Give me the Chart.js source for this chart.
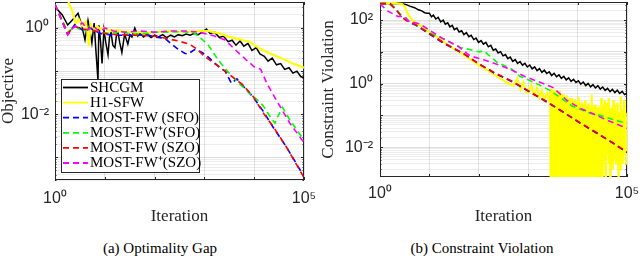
<!DOCTYPE html>
<html><head><meta charset="utf-8">
<script src="https://cdn.jsdelivr.net/npm/chart.js@4.4.1/dist/chart.umd.min.js"></script>
<style>
html,body{margin:0;padding:0;background:#fff;}
body{width:640px;height:256px;position:relative;overflow:hidden;}
.panel{position:absolute;top:0;width:320px;height:232px;}
#pa{left:0}#pb{left:320px}
.cap{position:absolute;top:238px;width:320px;text-align:center;font-family:'Liberation Serif',serif;font-size:15px;line-height:20px;color:#000;}
</style></head><body>
<div class="panel" id="pa"><canvas id="ca" width="320" height="232"></canvas></div>
<div class="panel" id="pb"><canvas id="cb" width="320" height="232"></canvas></div>
<div class="cap" style="left:0">(a) Optimality Gap</div>
<div class="cap" style="left:322px">(b) Constraint Violation</div>
<script>
// ---------- series names ----------
const seriesNames = ['SHCGM', 'H1-SFW', 'MOST-FW (SFO)', 'MOST-FW\u207A(SFO)', 'MOST-FW (SZO)', 'MOST-FW\u207A(SZO)'];
const seriesColors = ['#000000', '#ffff00', '#0000ff', '#00ff00', '#ff0000', '#ff00ff'];

// ---------- tick labels ----------
const xTickValues = [1, 100000];
const xTickLabels = ['10\u2070', '10\u2075'];
const yTickValuesA = [1, 0.01];
const yTickLabelsA = ['10\u2070', '10\u207B\u00B2'];
const yTickValuesB = [100, 1, 0.01];
const yTickLabelsB = ['10\u00B2', '10\u2070', '10\u207B\u00B2'];

// ---------- (a) Objective ----------
const itShcgmA = [1,1.4,1.8,2.3,2.9,3.4,4.0,4.6,5.0,5.5,6.1,6.7,7.3,7.6,8.2,8.8,9.6,10.5,11.6,12.4,13.3,14.5,16,17.2,18.5,20,22,25,29,32,35,40,46,51,60,70,85,100,120,145,175,210,250,300,360,430,520,620,750,900,1100,1300,1600,2000,2400,3000,3600,4300,5200,6200,7500,9000,11000,13000,16000,19000,23000,28000,34000,41000,50000,60000,72000,86000,100000];
const shcgmA = [3.1,2.0,1.17,1.6,2.2,1.2,0.53,1.5,0.9,0.45,1.3,0.25,0.06,1.15,0.5,0.15,0.9,0.45,0.24,0.6,0.8,0.4,0.35,0.7,0.76,0.45,0.27,0.72,0.42,0.7,0.62,1.0,0.65,0.75,0.62,0.72,0.6,0.68,0.62,0.7,0.6,0.68,0.62,0.7,0.66,0.72,0.68,0.75,0.7,0.8,0.95,0.75,0.8,0.6,0.65,0.48,0.52,0.4,0.5,0.38,0.44,0.3,0.35,0.25,0.22,0.17,0.2,0.14,0.15,0.11,0.12,0.09,0.1,0.075,0.07];

const itH1A = [1,1.8,2.2,2.6,3.0,3.5,4.2,4.8,5.2,6,7,8,10,13,17,22,30,50,80,120,200,300,500,800,1200,2000,3000,5000,8000,12000,20000,35000,60000,100000];
const h1A = [4.5,4.5,2.5,1.3,1.6,1.1,1.4,0.38,1.2,0.9,1.1,0.95,1.0,0.85,0.9,0.85,0.82,0.8,0.78,0.82,0.85,0.82,0.83,0.85,0.85,0.75,0.63,0.55,0.48,0.35,0.26,0.2,0.15,0.12];

const itSfoA = [1,1.8,2.5,3.5,5,8,12,20,40,70,100,160,220,300,400,470,650,900,1200,1900,2600,3500,4500,6000,9500,15000,24000,45000,100000];
const sfoA = [3.5,0.7,1.2,0.9,1.0,0.75,0.7,0.68,0.68,0.7,0.62,0.58,0.42,0.32,0.26,0.25,0.32,0.27,0.21,0.13,0.1,0.052,0.066,0.045,0.025,0.012,0.005,0.0017,0.00036];

const itSfoPA = [1,1.8,2.5,3.5,5,8,12,20,40,70,120,200,350,600,800,1200,1900,3000,4500,7000,10000,15000,20000,26000,30000,37000,50000,70000,100000];
const sfoPA = [3.5,0.8,1.1,0.85,0.95,0.8,0.75,0.8,0.72,0.75,0.8,0.8,0.82,0.78,0.62,0.4,0.18,0.095,0.058,0.036,0.025,0.016,0.0095,0.0062,0.009,0.0145,0.008,0.0045,0.0025];

const itSzoA = [1,1.8,2.5,3.5,5,8,12,20,40,70,100,200,300,500,700,1000,1600,2600,4100,5700,9500,15000,24000,45000,100000];
const szoA = [3.5,0.75,1.1,0.95,0.9,0.8,0.72,0.7,0.68,0.66,0.65,0.55,0.5,0.42,0.33,0.22,0.15,0.1,0.066,0.05,0.026,0.011,0.0052,0.0017,0.00034];

const itSzoPA = [1,1.8,2.3,3.6,4.5,6,8,10,15,25,50,100,200,400,650,1000,1600,2600,4200,7000,10000,13500,18000,28000,52000,100000];
const szoPA = [3.5,0.69,1.0,1.3,0.9,1.1,0.8,1.0,0.85,0.8,0.85,0.8,0.85,0.85,0.82,0.75,0.65,0.53,0.31,0.18,0.126,0.11,0.052,0.021,0.0062,0.0022];

// ---------- (b) Constraint violation ----------
const itShcgmB = [1,2,3,3.5,4,5,6,7,8,9,10,11,12,13.5,15,17,19,21,23.5,26,29,32,36,40,45,50,56,63,70,79,88,99,111,124,139,156,175,196,220,246,276,309,346,388,434,486,545,610,683,765,857,960,1075,1204,1349,1511,1692,1895,2123,2378,2663,2983,3341,3742,4191,4694,5257,5888,6595,7386,8273,9266,10378,11623,13018,14580,16330,18290,20485,22943,25696,28780,32233,36101,40433,45285,50720,56806,63623,71257,79808,89385,100000];
const shcgmB = [330,335,320,300,275,245,210,195,170,165,165,126,143,108,121,88,99,74,82,61,68,50,56,42,46,35,40,30,33,24.3,27,19.8,22.5,17.5,19.8,14.4,16,11.2,12.3,9.2,10.1,7.5,8.2,6.1,6.8,5.0,5.7,4.3,4.95,3.8,4.35,3.33,3.85,2.92,3.35,2.56,2.97,2.25,2.64,2.07,2.36,1.8,2.11,1.64,1.89,1.46,1.7,1.31,1.52,1.18,1.37,1.08,1.23,0.96,1.12,0.87,1.02,0.79,0.93,0.73,0.86,0.67,0.78,0.61,0.71,0.56,0.66,0.52,0.62,0.49,0.57,0.45,0.5];

const itH1Bsmooth = [1,2,2.8,3.2,3.7,4.5,6,8,10,15,20,30,50,100,200,400,500,600,700,800,900,1000,1150,1300,1500,1700,1900,2100,2400,2700];
const h1Bsmooth = [340,340,320,260,150,100,75,55,42,28,20,13,8,3.8,2.0,1.0,0.85,1.4,0.65,1.1,0.55,0.5,0.9,0.43,0.75,0.36,0.6,0.3,0.5,0.26];
const itH1Bnoisy1 = [2800,2850,2900,2950,3000,3075,3150,3225,3300,3375,3450,3525,3600,3675,3750,3825,3900,3975,4050,4125,4200,4300,4400,4500,4600,4700,4800,4900,5000,5100,5200,5300,5400,5500,5600,5725,5850,5975,6100,6225,6350,6475,6600,6750,6900,7050,7200,7350,7500,7650,7800,7950,8100,8275,8450,8625,8800,8975,9150,9325,9500,9700,9900,10100,10300,10500,10700,10900,11100,11350,11600,11850,12100,12350,12600,12850,13100,13350,13600,13900,14200,14500,14800,15100,15400,15700,16000,16300,16600,16950,17300,17650,18000,18350,18700,19100,19500,19900,20300,20700,21100,21550,22000,22450,22900,23350,23800,24300,24800,25300,25800,26300,26800,27350,27900,28450,29000];
const h1Bnoisy1 = [0.55,0.0001,0.7,0.0002,0.45,0.001,0.6,0.0001,0.4,0.0005,0.65,0.0001,0.38,0.003,0.55,0.0001,0.3,0.0002,0.5,0.0015,0.42,0.0001,0.6,0.0004,0.33,0.0001,0.48,0.002,0.3,0.0001,0.45,0.0007,0.28,0.0001,0.4,0.003,0.26,0.0001,0.42,0.0003,0.3,0.0001,0.22,0.002,0.36,0.0001,0.25,0.0006,0.35,0.0001,0.2,0.004,0.3,0.0001,0.22,0.0002,0.32,0.001,0.18,0.0001,0.28,0.003,0.2,0.0001,0.38,0.005,0.18,0.0001,0.24,0.0008,0.16,0.0001,0.27,0.002,0.15,0.0001,0.22,0.006,0.14,0.0001,0.3,0.0004,0.15,0.008,0.2,0.0001,0.13,0.003,0.24,0.0001,0.14,0.005,0.18,0.0001,0.12,0.002,0.45,0.0001,0.16,0.01,0.2,0.0002,0.13,0.004,0.22,0.0001,0.12,0.007,0.17,0.0001,0.11,0.003,0.19,0.012,0.1,0.0005,0.15];
const itH1Bnoisy2 = [29600,30200,30800,31400,32000,32700,33300,34000,34700,35400,36100,36800,37500,38300,39000,39800,40600,41400,42200,43100,43900,44800,45700,46600,47500,48500,49400,50400,51400,52400,53400,54500,55600,56700,57800,59000,60200,61400,62600,63800,65100,66400,67700,69000,70400,71800,73200,74700,76200,77700,79200,80800,82400,84000,85700,87400,89100,90900,92700,94500,96400,98300,100000];
const h1Bnoisy2 = [0.003,0.35,0.008,0.14,0.0001,0.22,0.01,0.12,0.004,0.3,0.015,0.1,0.0002,0.25,0.006,0.11,0.01,0.2,0.003,0.35,0.012,0.09,0.0001,0.16,0.005,0.12,0.008,0.18,0.002,0.3,0.01,0.1,0.004,0.22,0.015,0.08,0.003,0.14,0.007,0.25,0.02,0.09,0.0001,0.12,0.004,0.1,0.002,0.4,0.008,0.12,0.005,0.15,0.003,0.1,0.012,0.3,0.006,0.1,0.015,0.12,0.003,0.09,0.006];

const itSfoB = [1,1.6,2.1,2.8,4,6,10,20,50,100,200,500,1000,2400,5000,11000,24000,50000,100000];
const sfoB = [330,330,220,125,85,62,36,18,8.6,4.2,2.2,1.1,0.58,0.26,0.13,0.058,0.028,0.014,0.0068];

const itSfoPB = [1,1.5,2,2.8,5,10,18,41,84,105,125,150,230,470,680,1500,2800,4400,7600,12000,20000,28000,50000,100000];
const sfoPB = [330,330,240,130,75,40,27,14,10.7,10,11,8.5,4.8,2.8,1.7,1.0,0.6,0.37,0.2,0.15,0.11,0.1,0.075,0.056];

const itSzoB = [1,1.6,2.0,2.3,2.8,3.5,5,10,20,52,105,200,490,1000,2400,5000,11000,24000,50000,100000];
const szoB = [330,330,230,180,120,95,75,38,19,8.4,4.0,2.3,1.15,0.6,0.27,0.13,0.06,0.029,0.014,0.007];

const itSzoPB = [1,1.45,2.3,3.2,3.7,6.4,18,38,66,130,190,400,870,1500,3200,6000,11000,20000,40000,100000];
const szoPB = [320,190,130,130,93,75,27,15,7.5,5.5,4.5,3.0,1.65,1.2,0.75,0.3,0.17,0.115,0.07,0.039];

// ---------- helpers ----------
function pts(xs, ys){ return xs.map((x,i)=>({x:x, y:ys[i]})); }
function isDecade(v){ const l = Math.log10(v); return Math.abs(l - Math.round(l)) < 1e-6; }
function labelFor(v, vals, labs){
  for (let i=0;i<vals.length;i++){ if (Math.abs(Math.log10(v)-Math.log10(vals[i]))<1e-6) return labs[i]; }
  return '';
}
function logGrid(min, max, minor){
  const out = [];
  for (let e = Math.floor(Math.log10(min)); e <= Math.ceil(Math.log10(max)); e++){
    const steps = minor ? [1,2,3,4,5,6,7,8,9] : [1];
    steps.forEach(m => { const v = m*Math.pow(10,e); if (v >= min*0.9999 && v <= max*1.0001) out.push(v); });
  }
  return out;
}
const lineWidths = [1.5, 2.1, 1.6, 1.6, 1.6, 1.6];
function mkDatasets(arr){
  return arr.map((d,i)=>({
    label: seriesNames[i], data: pts(d[0], d[1]),
    borderColor: seriesColors[i], backgroundColor: seriesColors[i],
    borderWidth: lineWidths[i], borderDash: i>=2 ? [6,4] : [],
    pointRadius: 0, tension: 0, fill: false, order: 6 - i
  }));
}

const frameTicks = {
  id: 'frameTicks',
  beforeDatasetsDraw(chart){
    const {ctx, chartArea:a, scales:{x, y}} = chart;
    ctx.save();
    ctx.strokeStyle = '#262626'; ctx.lineWidth = 1;
    ctx.beginPath();
    x.ticks.forEach(t=>{ const p = Math.round(x.getPixelForValue(t.value))+0.5;
      ctx.moveTo(p, a.bottom); ctx.lineTo(p, a.bottom-3); ctx.moveTo(p, a.top); ctx.lineTo(p, a.top+3); });
    y.ticks.forEach(t=>{ const p = Math.round(y.getPixelForValue(t.value))+0.5; const L = isDecade(t.value)?3:1.5;
      ctx.moveTo(a.left, p); ctx.lineTo(a.left+L, p); ctx.moveTo(a.right, p); ctx.lineTo(a.right-L, p); });
    ctx.stroke();
    ctx.strokeRect(Math.round(a.left)+0.5, Math.round(a.top)+0.5, Math.round(a.right-a.left)-1, Math.round(a.bottom-a.top)-1);
    ctx.restore();
  }
};

const boxLegend = {
  id: 'boxLegend',
  afterDatasetsDraw(chart){
    const {ctx, chartArea:a} = chart;
    const x0 = Math.round(a.left)+6, y0 = Math.round(a.top)+77, w = 138, h = 93;
    ctx.save();
    ctx.fillStyle = '#fff'; ctx.fillRect(x0, y0, w, h);
    ctx.strokeStyle = '#262626'; ctx.lineWidth = 1; ctx.strokeRect(x0+0.5, y0+0.5, w, h);
    ctx.font = '15px "Liberation Serif"'; ctx.textBaseline = 'middle'; ctx.textAlign = 'left';
    chart.data.datasets.forEach((ds, i)=>{
      const yy = y0 + 8.5 + i*15.1;
      ctx.beginPath(); ctx.setLineDash(ds.borderDash || []);
      ctx.strokeStyle = ds.borderColor; ctx.lineWidth = 1.8;
      ctx.moveTo(x0+2, yy); ctx.lineTo(x0+27, yy); ctx.stroke();
      ctx.setLineDash([]);
      ctx.fillStyle = '#000'; ctx.fillText(ds.label, x0+29, yy+0.5);
    });
    ctx.restore();
  }
};

function mkOptions(cfg){
  return {
    responsive: false, animation: false,
    layout: { padding: { left: 0, right: cfg.padRight, top: 2, bottom: 0 } },
    plugins: { legend: { display: false }, tooltip: { enabled: false } },
    scales: {
      x: {
        type: 'logarithmic', min: 1, max: 100000,
        afterBuildTicks: s => { s.ticks = logGrid(1, 100000, false).map(v=>({value:v})); },
        afterFit: s => { s.height = cfg.xHeight; s.paddingLeft = 0; s.paddingRight = 0; },
        ticks: { autoSkip: false, maxRotation: 0, padding: cfg.xPad, color: '#262626',
          font: { family: 'Liberation Sans', size: 16 },
          callback: v => labelFor(v, xTickValues, xTickLabels) },
        grid: { drawTicks: false, color: 'rgba(0,0,0,0.11)', lineWidth: 1 },
        border: { display: false },
        title: { display: true, text: 'Iteration', color: '#262626',
          font: { family: 'Liberation Serif', size: 17, lineHeight: 1 }, padding: { top: 0, bottom: 6.5 } }
      },
      y: {
        type: 'logarithmic', min: cfg.yMin, max: cfg.yMax,
        afterBuildTicks: s => { s.ticks = logGrid(cfg.yMin, cfg.yMax, true).map(v=>({value:v})); },
        afterFit: s => { s.width = cfg.yWidth; s.paddingTop = 0; s.paddingBottom = 0; },
        ticks: { autoSkip: false, padding: cfg.yPad, color: '#262626',
          font: { family: 'Liberation Sans', size: 16 },
          callback: v => labelFor(v, cfg.yVals, cfg.yLabs) },
        grid: { drawTicks: false, lineWidth: 1,
          color: c => (c.tick && isDecade(c.tick.value)) ? 'rgba(0,0,0,0.13)' : 'rgba(0,0,0,0.07)' },
        border: { display: false },
        title: { display: true, text: cfg.yTitle, color: '#262626',
          font: { family: 'Liberation Serif', size: 17, lineHeight: 1 }, padding: 0 }
      }
    }
  };
}

new Chart(document.getElementById('ca'), {
  type: 'line',
  data: { datasets: mkDatasets([[itShcgmA, shcgmA],[itH1A, h1A],[itSfoA, sfoA],[itSfoPA, sfoPA],[itSzoA, szoA],[itSzoPA, szoPA]]) },
  options: mkOptions({ padRight: 16, xHeight: 52, xPad: 9, yMin: 3e-4, yMax: 4, yWidth: 55, yPad: 6,
    yVals: yTickValuesA, yLabs: yTickLabelsA, yTitle: 'Objective' }),
  plugins: [frameTicks, boxLegend]
});

const itH1B = itH1Bsmooth.concat(itH1Bnoisy1, itH1Bnoisy2);
const h1B = h1Bsmooth.concat(h1Bnoisy1, h1Bnoisy2);
new Chart(document.getElementById('cb'), {
  type: 'line',
  data: { datasets: mkDatasets([[itShcgmB, shcgmB],[itH1B, h1B],[itSfoB, sfoB],[itSfoPB, sfoPB],[itSzoB, szoB],[itSzoPB, szoPB]]) },
  options: mkOptions({ padRight: 13, xHeight: 55, xPad: 7, yMin: 1.15e-3, yMax: 370, yWidth: 60, yPad: 7,
    yVals: yTickValuesB, yLabs: yTickLabelsB, yTitle: 'Constraint Violation' }),
  plugins: [frameTicks]
});
</script>
</body></html>
